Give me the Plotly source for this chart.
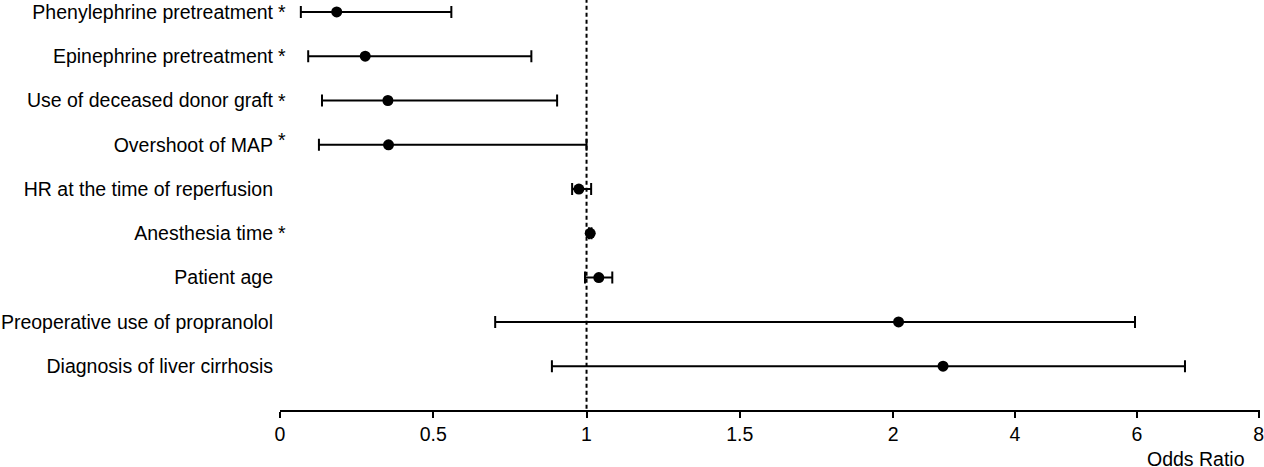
import plotly.graph_objects as go

labels = [
    "Phenylephrine pretreatment",
    "Epinephrine pretreatment",
    "Use of deceased donor graft",
    "Overshoot of MAP",
    "HR at the time of reperfusion",
    "Anesthesia time",
    "Patient age",
    "Preoperative use of propranolol",
    "Diagnosis of liver cirrhosis",
]
significant = [True, True, True, True, False, True, False, False, False]
odds_ratio = [0.185, 0.278, 0.352, 0.354, 0.975, 1.012, 1.04, 2.09, 2.82]
ci_low = [0.068, 0.092, 0.137, 0.127, 0.953, 1.008, 0.995, 0.702, 0.887]
ci_high = [0.559, 0.820, 0.904, 1.0, 1.015, 1.016, 1.084, 5.97, 6.79]
tick_values = [0, 0.5, 1, 1.5, 2, 4, 6, 8]
tick_labels = ["0", "0.5", "1", "1.5", "2", "4", "6", "8"]

# Broken axis: linear 0-2, compressed 2-8
def tr(v):
    return v if v <= 2 else 2 + (v - 2) * 0.1988

rows = list(range(len(labels)))
xs = [tr(v) for v in odds_ratio]
plus = [tr(h) - tr(v) for v, h in zip(odds_ratio, ci_high)]
minus = [tr(v) - tr(l) for v, l in zip(odds_ratio, ci_low)]

fig = go.Figure()
fig.add_trace(go.Scatter(
    x=xs, y=rows, mode="markers",
    marker=dict(color="black", size=11),
    error_x=dict(type="data", symmetric=False, array=plus, arrayminus=minus,
                 color="black", thickness=2, width=6),
    showlegend=False, hoverinfo="skip",
))

fig.add_shape(type="line", x0=tr(1), x1=tr(1), y0=-0.3, y1=8.99,
              line=dict(color="black", width=2, dash="4px,3px"), layer="below")

font = dict(family="Liberation Sans, Arial, sans-serif", size=19.5, color="black")

annotations = [dict(text="Odds Ratio", x=1, xref="paper", y=0, yref="paper",
                    xanchor="right", yanchor="middle", yshift=-49, xshift=-13,
                    showarrow=False, font=font)]
for r, sig in zip(rows, significant):
    if sig:
        raised = 5 if labels[r] == "Overshoot of MAP" else 0
        annotations.append(dict(text="*", x=-4 / 980, xref="paper", y=r, yref="y",
                                xanchor="left", yanchor="middle", yshift=raised,
                                showarrow=False, font=font))

fig.update_layout(
    width=1264, height=467,
    margin=dict(l=280, r=4, t=0, b=57),
    plot_bgcolor="white", paper_bgcolor="white",
    font=font,
    xaxis=dict(
        range=[0, 3.197], tickvals=[tr(v) for v in tick_values], ticktext=tick_labels,
        showline=True, linecolor="black", linewidth=2,
        ticks="outside", ticklen=6, tickwidth=2, tickcolor="black",
        showgrid=False, zeroline=False, tickfont=font,
        ticklabeloverflow="allow", automargin=False,
    ),
    yaxis=dict(
        range=[8.99, -0.27], tickvals=rows, ticktext=labels,
        showline=False, showgrid=False, zeroline=False, ticks="",
        tickfont=font, ticklabelstandoff=6, automargin=False,
    ),
    annotations=annotations,
)

fig.write_html("out.html", config={"displayModeBar": False},
               post_script="document.body.style.margin='0px';")
